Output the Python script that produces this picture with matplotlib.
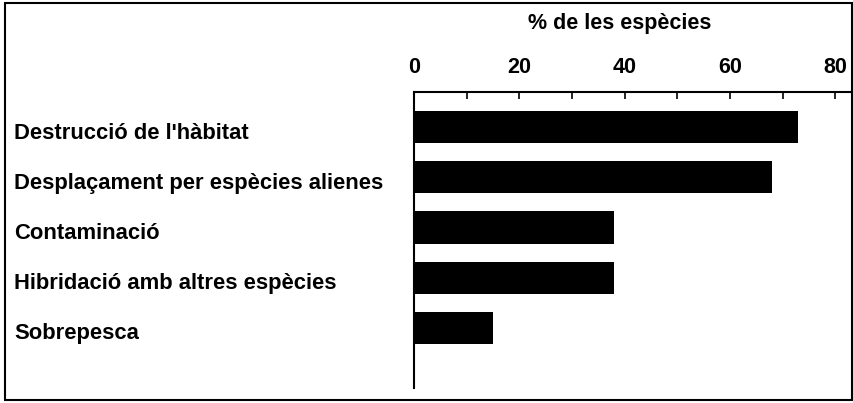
import matplotlib.pyplot as plt
from matplotlib.patches import Rectangle
import matplotlib.transforms as mtransforms

# ====== Data ======
categories = [
    "Destrucció de l'hàbitat",
    "Desplaçament per espècies alienes",
    "Contaminació",
    "Hibridació amb altres espècies",
    "Sobrepesca",
]
percentages = [73, 68, 38, 38, 15]
major_ticks = [0, 20, 40, 60, 80]
minor_ticks = [10, 30, 50, 70]

plt.rcParams['font.family'] = ['Liberation Sans', 'DejaVu Sans']

fig = plt.figure(figsize=(8.54, 4.03), dpi=100)
ax = fig.add_axes([0.4848, 0.0372, 0.5117, 0.7345])

ypos = list(range(len(categories)))
ax.barh(ypos, percentages, height=0.64, color="black")

ax.set_xlim(0, 83)
ax.set_ylim(5.2, -0.7)

ax.xaxis.tick_top()
ax.set_xticks(major_ticks)
ax.set_xticks(minor_ticks, minor=True)
ax.tick_params(axis='x', which='both', direction='in', length=5, width=1.2,
               labelsize=15.5, pad=10)
for lbl in ax.get_xticklabels():
    lbl.set_fontweight('bold')
ax.set_yticks([])

for side in ["bottom", "right"]:
    ax.spines[side].set_visible(False)
for side in ["top", "left"]:
    ax.spines[side].set_linewidth(1.5)

# category labels, left aligned near the frame
trans = mtransforms.blended_transform_factory(ax.transAxes, ax.transData)
for y, name in zip(ypos, categories):
    ax.text(-0.915, y + 0.12, name, transform=trans, ha='left', va='center',
            fontsize=15.8, fontweight='bold', clip_on=False)

fig.text(620 / 854, 1 - 23 / 403, "% de les espècies", ha='center', va='center',
         fontsize=15.5, fontweight='bold')

# outer frame
fig.patches.append(Rectangle((5 / 854, 3 / 403), 847 / 854, 397 / 403,
                             transform=fig.transFigure, fill=False,
                             edgecolor='black', linewidth=1.5))

fig.savefig("out.png", dpi=100)
